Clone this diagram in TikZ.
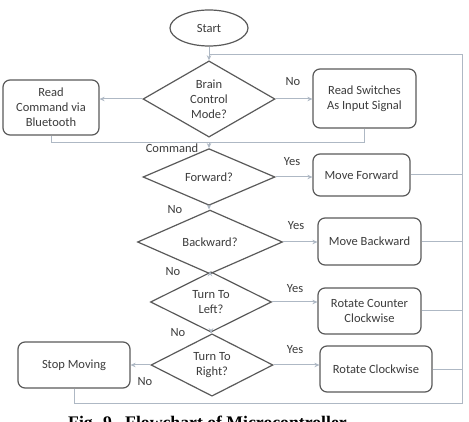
\documentclass[tikz,border=0pt]{standalone}
\usepackage{fontspec}
\setmainfont{Carlito}
\newfontfamily\capfont{Liberation Serif}
\usetikzlibrary{shapes.geometric,arrows.meta}

\definecolor{inkgray}{HTML}{3C3C3C}
\definecolor{edgegray}{HTML}{5A5A5A}
\definecolor{flowline}{HTML}{AEB8C4}

\tikzset{
  x=1pt, y=-1pt,
  every node/.style={text=inkgray, font=\fontsize{12.5}{15}\selectfont},
  terminal/.style={ellipse, draw=edgegray, line width=1.2pt, inner sep=0pt},
  decision/.style={diamond, draw=edgegray, line width=1.2pt, inner sep=0pt,
    align=center},
  process/.style={rectangle, rounded corners=7pt, draw=edgegray,
    line width=1.2pt, inner sep=0pt, align=center},
  flow/.style={draw=flowline, line width=1pt},
  flowarrow/.style={flow, -{Stealth[length=5pt,width=4.5pt]}},
  tag/.style={inner sep=0pt}
}

\begin{document}
\begin{tikzpicture}
\useasboundingbox (0,0) rectangle (469,422);
\fill[white] (0,0) rectangle (469,422);

% shapes
\node[terminal, minimum width=78pt, minimum height=36pt] (start) at (209,28) {Start};
\node[decision, minimum width=132pt, minimum height=74pt] (mode) at (209,99)
  {Brain\\Control\\Mode?};
\node[process, minimum width=96pt, minimum height=55pt] (bt) at (51,107.5)
  {Read\\Command via\\Bluetooth};
\node[process, minimum width=103pt, minimum height=59pt] (sw) at (364.5,98.5)
  {Read Switches\\As Input Signal};

\node[decision, minimum width=132pt, minimum height=55pt] (fwd) at (209,177) {Forward?};
\node[process, minimum width=97pt, minimum height=42pt] (mfwd) at (361.5,175) {Move Forward};

\node[decision, minimum width=145pt, minimum height=48pt] (bwd) at (210,242) {Backward?};
\node[process, minimum width=103pt, minimum height=47pt] (mbwd) at (369.5,241.5) {Move Backward};

\node[decision, minimum width=121pt, minimum height=46pt] (left) at (211,302)
  {Turn To\\Left?};
\node[process, minimum width=103pt, minimum height=46pt] (rccw) at (369.5,311)
  {Rotate Counter\\Clockwise};

\node[decision, minimum width=122pt, minimum height=49pt] (right) at (212,365)
  {Turn To\\Right?};
\node[process, minimum width=112pt, minimum height=46pt] (stop) at (74,365) {Stop Moving};
\node[process, minimum width=112pt, minimum height=46pt] (rcw) at (376,369) {Rotate Clockwise};

% junctions of the return loop and the command merge
\coordinate (loopTop) at (209,55);
\coordinate (railTop) at (462,55);
\coordinate (railBot) at (462,403);
\coordinate (merge) at (209,143);

% main flow
\draw[flowarrow] (start.south) -- (mode.north);
\draw[flowarrow] (mode.west) -- (mode.west -| bt.east);
\draw[flowarrow] (mode.east) -- (mode.east -| sw.west);
\draw[flow] (bt.south) |- (merge);
\draw[flow] (sw.south) |- (merge);
\draw[flowarrow] (merge) -- (fwd.north);
\draw[flowarrow] (fwd.east) -- (fwd.east -| mfwd.west);
\draw[flowarrow] (fwd.south) -- (fwd.south |- bwd.north);
\draw[flowarrow] (bwd.east) -- (bwd.east -| mbwd.west);
\draw[flowarrow] (bwd.south) -- (bwd.south |- left.north);
\draw[flowarrow] (left.east) -- (left.east -| rccw.west);
\draw[flowarrow] (left.south) -- (left.south |- right.north);
\draw[flowarrow] (right.east) -- (right.east -| rcw.west);
\draw[flowarrow] (right.west) -- (right.west -| stop.east);

% return loop back to the mode decision
\draw[flow] (mfwd.east) -- (mfwd.east -| railTop);
\draw[flow] (mbwd.east) -- (mbwd.east -| railTop);
\draw[flow] (rccw.east) -- (rccw.east -| railTop);
\draw[flow] (rcw.east) -- (rcw.east -| railTop);
\draw[flow] (stop.south) |- (railBot) -- (railTop) -- (loopTop);

% branch labels
\node[tag] (lno1) at (293,82) {No};
\node[tag] (lcmd) at (172,148) {Command};
\node[tag] (lyes1) at (292,162) {Yes};
\node[tag] (lno2) at (175,210) {No};
\node[tag] (lyes2) at (296,226) {Yes};
\node[tag] (lno3) at (173,272) {No};
\node[tag] (lyes3) at (295,289) {Yes};
\node[tag] (lno4) at (178,333) {No};
\node[tag] (lyes4) at (295,350) {Yes};
\node[tag] (lno5) at (145,382) {No};

% caption, running off the lower edge of the page
\node[anchor=base west, inner sep=0pt, text=black,
  font=\capfont\bfseries\fontsize{17.7}{21}\selectfont] (caption) at (68,428)
  {Fig. 9.\ \ Flowchart of Microcontroller};
\end{tikzpicture}
\end{document}
